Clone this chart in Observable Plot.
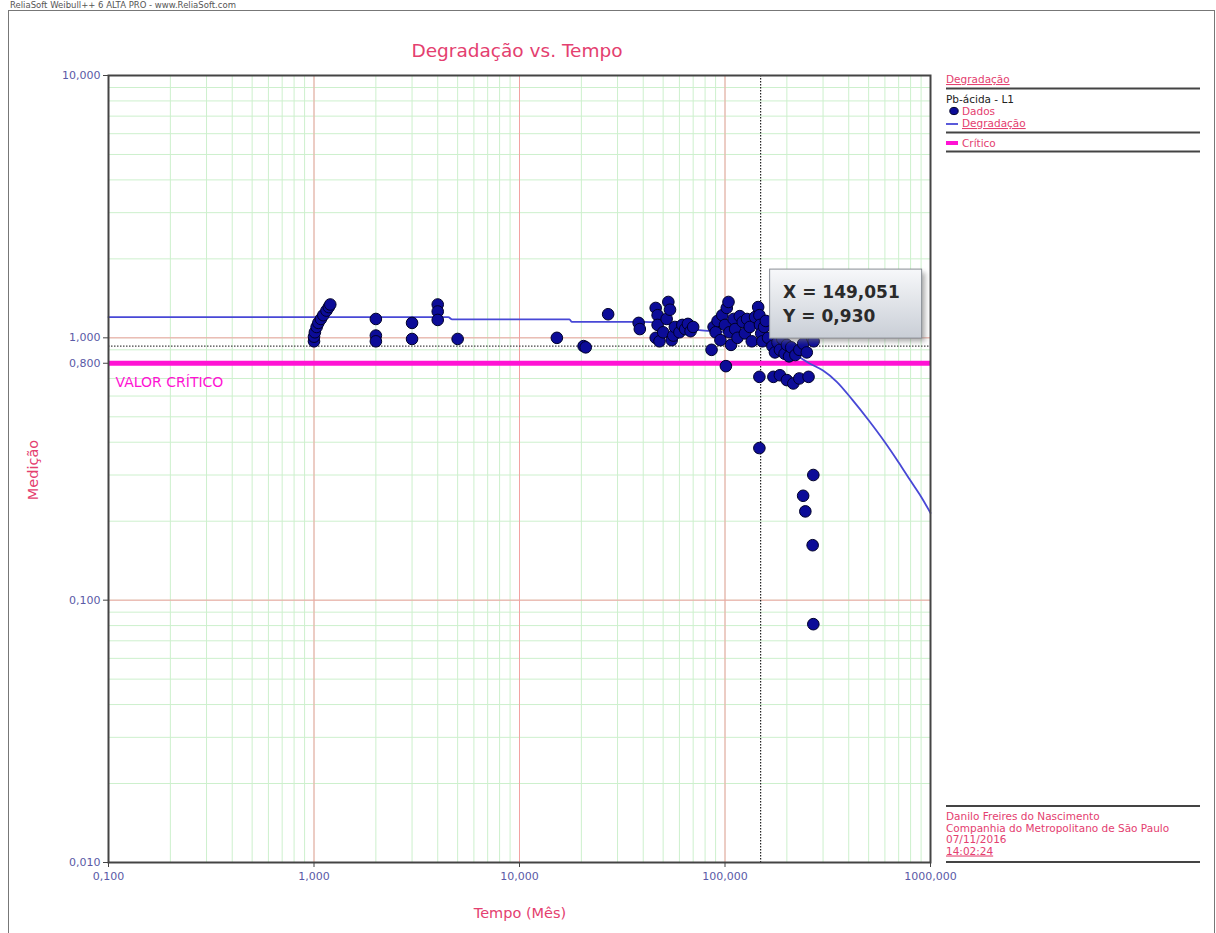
<!DOCTYPE html>
<html>
<head>
<meta charset="utf-8">
<script src="https://cdn.jsdelivr.net/npm/d3@7"></script>
<script src="https://cdn.jsdelivr.net/npm/@observablehq/plot@0.6"></script>
<style>
  html, body { margin: 0; padding: 0; background: #fff; }
  #chart { position: relative; width: 1216px; height: 933px; overflow: hidden; }
</style>
</head>
<body>
<div id="chart"></div>
<script>
// Measured degradation data (time in months, measured value)
const pointTime = [
  1.00, 1.00, 1.01, 1.03, 1.05, 1.08, 1.11, 1.15, 1.18, 1.20,
  2.00, 2.00, 2.00, 3.00, 3.00, 4.00, 4.00, 4.00, 5.00,
  15.2, 20.5, 21.0, 27.0, 38.0, 38.5,
  46, 47, 47, 46, 48, 50, 52, 53, 54, 55, 56, 57,
  60, 62, 64, 66, 68, 70,
  86, 88, 90, 92, 95, 97, 100, 102, 104, 105, 107, 110, 112, 115, 118, 101,
  122, 125, 128, 132, 135, 140, 145, 147, 148, 150, 152, 155, 158, 162, 147,
  170, 175, 180, 185, 190, 195, 200, 205, 210, 220, 230, 240, 250, 265, 270,
  172, 185, 200, 215, 230, 255,
  147, 269, 240, 246, 267, 269
];
const pointValue = [
  0.97, 1.01, 1.05, 1.10, 1.14, 1.18, 1.22, 1.27, 1.31, 1.34,
  1.18, 1.02, 0.97, 1.14, 0.99, 1.34, 1.26, 1.17, 0.99,
  1.00, 0.93, 0.92, 1.23, 1.14, 1.08,
  1.30, 1.22, 1.12, 1.00, 0.97, 1.05, 1.18, 1.37, 1.28, 0.98, 1.02, 1.10,
  1.05, 1.12, 1.08, 1.13, 1.06, 1.10,
  0.90, 1.10, 1.05, 1.16, 0.98, 1.22, 1.12, 1.30, 1.37, 1.05, 0.94, 1.18, 1.08, 1.00, 1.21, 0.78,
  1.15, 1.04, 1.18, 1.10, 0.97, 1.20, 1.31, 1.22, 1.12, 1.04, 0.97, 1.10, 1.16, 1.00, 0.71,
  0.93, 0.88, 0.96, 0.90, 0.99, 0.87, 0.94, 0.85, 0.92, 0.86, 0.90, 0.95, 0.88, 1.00, 0.97,
  0.71, 0.72, 0.69, 0.67, 0.70, 0.71,
  0.38, 0.30, 0.25, 0.218, 0.162, 0.081
];

// Fitted degradation curve
const curveTime  = [0.1, 4.5, 4.7, 17.5, 18, 40, 60, 75, 100, 130, 170, 210, 257, 300, 350, 417, 500, 600, 700, 800, 900, 1000];
const curveValue = [1.20, 1.20, 1.175, 1.175, 1.15, 1.15, 1.11, 1.07, 1.05, 1.00, 0.94, 0.88, 0.80, 0.75, 0.68, 0.58, 0.485, 0.40, 0.335, 0.285, 0.248, 0.215];

// Critical value and cursor readout
const criticalValue = 0.8;
const cursorX = 149.051;
const cursorY = 0.930;

// Axis ticks
const xTicks = [0.1, 1, 10, 100, 1000];
const yTicks = [0.01, 0.1, 0.8, 1, 10];
const yMajor = [0.01, 0.1, 1, 10];

// Text
const titleText = "Degradação vs. Tempo";
const xLabel = "Tempo (Mês)";
const yLabel = "Medição";
const headerText = "ReliaSoft Weibull++ 6 ALTA PRO - www.ReliaSoft.com";
const legendHeader = "Degradação";
const legendGroup = "Pb-ácida - L1";
const legendData = "Dados";
const legendLine = "Degradação";
const legendCritical = "Crítico";
const criticalLabel = "VALOR CRÍTICO";
const infoLines = ["Danilo Freires do Nascimento", "Companhia do Metropolitano de São Paulo", "07/11/2016", "14:02:24"];

const points = pointTime.map((t, i) => ({t, v: pointValue[i]}));
const curve = curveTime.map((t, i) => ({t, v: curveValue[i]}));

const fmt = v => v.toFixed(3).replace(".", ",");
const xMinor = d3.scaleLog().domain([0.1, 1000]).ticks();
const yMinor = d3.scaleLog().domain([0.01, 10]).ticks();

const pink = "#e4406f";
const magenta = "#ff12d4";
const tickBlue = "#5a5aa6";
const font = "DejaVu Sans, sans-serif";

const plot = Plot.plot({
  width: 1216,
  height: 933,
  marginLeft: 108,
  marginRight: 286,
  marginTop: 75,
  marginBottom: 71,
  style: {fontFamily: font, fontSize: "11px", background: "#fff", overflow: "visible"},
  x: {type: "log", domain: [0.1, 1000]},
  y: {type: "log", domain: [0.01, 10]},
  marks: [
    Plot.ruleX(xMinor, {stroke: "#cdf0cd", strokeWidth: 1}),
    Plot.ruleY(yMinor, {stroke: "#cdf0cd", strokeWidth: 1}),
    Plot.ruleX(xTicks, {stroke: "#f2a2a2", strokeWidth: 1}),
    Plot.ruleY(yMajor, {stroke: "#f2a2a2", strokeWidth: 1}),
    Plot.ruleY([cursorY], {stroke: "#444", strokeWidth: 1.2, strokeDasharray: "1.5,1.5"}),
    Plot.ruleX([cursorX], {stroke: "#222", strokeWidth: 1.2, strokeDasharray: "1.5,1.5"}),
    Plot.ruleY([criticalValue], {stroke: magenta, strokeWidth: 5}),
    Plot.text([criticalLabel], {x: () => 0.1, y: () => criticalValue, dx: 7, dy: 19, textAnchor: "start", fill: magenta, fontSize: 14}),
    Plot.line(curve, {x: "t", y: "v", stroke: "#4848d6", strokeWidth: 1.8, curve: "monotone-x"}),
    Plot.dot(points, {x: "t", y: "v", r: 5.8, fill: "#0c0c98", stroke: "#00002a", strokeWidth: 1}),
    Plot.frame({stroke: "#444", strokeWidth: 2}),
    Plot.axisX(xTicks, {tickFormat: fmt, tickSize: 5, tickPadding: 5, stroke: "#444", fill: tickBlue, label: null, fontSize: 11}),
    Plot.axisY(yTicks, {tickFormat: fmt, tickSize: 5, tickPadding: 3, stroke: "#444", fill: tickBlue, label: null, fontSize: 11})
  ]
});

document.getElementById("chart").appendChild(plot);

const svg = d3.select(plot);
const sx = plot.scale("x").apply(cursorX);
const sy = plot.scale("y").apply(cursorY);

// defs: gradient and shadow for the cursor box
const defs = svg.append("defs");
const grad = defs.append("linearGradient").attr("id", "tipGrad").attr("x1", 0).attr("y1", 0).attr("x2", 0).attr("y2", 1);
grad.append("stop").attr("offset", "0%").attr("stop-color", "#f7f8fa");
grad.append("stop").attr("offset", "100%").attr("stop-color", "#c9ced6");
const blur = defs.append("filter").attr("id", "tipShadow").attr("x", "-20%").attr("y", "-20%").attr("width", "150%").attr("height", "150%");
blur.append("feGaussianBlur").attr("stdDeviation", 2.5);

// decorations drawn on top of the plot
const deco = svg.append("g").attr("font-family", font).attr("text-anchor", "start");

// outer frame and header
deco.append("rect").attr("x", 8.5).attr("y", 10.5).attr("width", 1206).attr("height", 930)
  .attr("fill", "none").attr("stroke", "#777").attr("stroke-width", 1);
deco.append("text").attr("x", 10).attr("y", 8).attr("font-size", 8.5).attr("fill", "#555").text(headerText);

// title
deco.append("text").attr("x", 517).attr("y", 57).attr("text-anchor", "middle")
  .attr("font-size", 18.5).attr("fill", pink).text(titleText);

// axis titles
deco.append("text").attr("x", 520).attr("y", 918).attr("text-anchor", "middle")
  .attr("font-size", 14.5).attr("fill", pink).text(xLabel);
deco.append("text").attr("transform", "translate(38,470) rotate(-90)").attr("text-anchor", "middle")
  .attr("font-size", 14.5).attr("fill", pink).text(yLabel);

// cursor readout box
const tip = deco.append("g").attr("transform", `translate(${sx + 9},${sy - 77})`);
tip.append("rect").attr("x", 4).attr("y", 4).attr("width", 152).attr("height", 69)
  .attr("fill", "#777").attr("opacity", 0.6).attr("filter", "url(#tipShadow)");
tip.append("rect").attr("x", 0.5).attr("y", 0.5).attr("width", 152).attr("height", 69)
  .attr("fill", "url(#tipGrad)").attr("stroke", "#8a8f96").attr("stroke-width", 1);
tip.append("text").attr("x", 14).attr("y", 29).attr("font-size", 17).attr("font-weight", "bold")
  .attr("fill", "#2a2a2a").text(`X = ${fmt(cursorX)}`);
tip.append("text").attr("x", 14).attr("y", 53).attr("font-size", 17).attr("font-weight", "bold")
  .attr("fill", "#2a2a2a").text(`Y = ${fmt(cursorY)}`);

// legend panel
const lg = deco.append("g").attr("font-size", 10.5);
const lx = 946;
const sep = (y) => lg.append("line").attr("x1", lx).attr("x2", 1200).attr("y1", y).attr("y2", y)
  .attr("stroke", "#444").attr("stroke-width", 2);
lg.append("text").attr("x", lx).attr("y", 83).attr("fill", pink).attr("text-decoration", "underline").text(legendHeader);
sep(88.5);
lg.append("text").attr("x", lx).attr("y", 103).attr("fill", "#222").text(legendGroup);
lg.append("ellipse").attr("cx", lx + 8).attr("cy", 111).attr("rx", 4.2).attr("ry", 3.6).attr("fill", "#0c0c98").attr("stroke", "#00002a");
lg.append("text").attr("x", lx + 16).attr("y", 115).attr("fill", pink).text(legendData);
lg.append("line").attr("x1", lx).attr("x2", lx + 12).attr("y1", 124).attr("y2", 124).attr("stroke", "#4848d6").attr("stroke-width", 1.8);
lg.append("text").attr("x", lx + 16).attr("y", 127).attr("fill", pink).attr("text-decoration", "underline").text(legendLine);
sep(132.5);
lg.append("line").attr("x1", lx).attr("x2", lx + 12).attr("y1", 143).attr("y2", 143).attr("stroke", magenta).attr("stroke-width", 4);
lg.append("text").attr("x", lx + 16).attr("y", 147).attr("fill", pink).text(legendCritical);
sep(151.5);

// author / date block
sep(806);
infoLines.forEach((s, i) => {
  lg.append("text").attr("x", lx).attr("y", 820 + i * 11.5).attr("fill", pink)
    .attr("text-decoration", i === infoLines.length - 1 ? "underline" : null).text(s);
});
sep(862);
</script>
</body>
</html>
